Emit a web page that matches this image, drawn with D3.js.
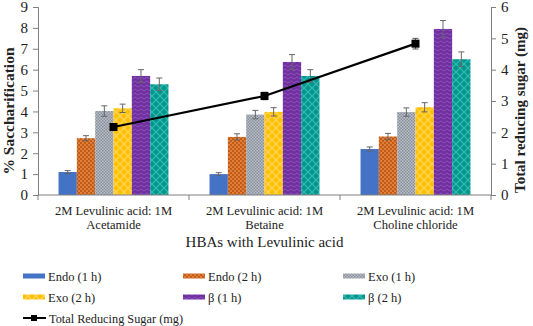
<!DOCTYPE html>
<html>
<head>
<meta charset="utf-8">
<script src="https://cdn.jsdelivr.net/npm/d3@7"></script>
<style>
  body { margin: 0; background: #fff; }
</style>
</head>
<body>
<svg id="chart" width="533" height="326"></svg>
<script>
var categories = ['2M Levulinic acid: 1M|Acetamide', '2M Levulinic acid: 1M|Betaine', '2M Levulinic acid: 1M|Choline chloride'];
var seriesNames = ['Endo (1 h)', 'Endo (2 h)', 'Exo (1 h)', 'Exo (2 h)', '\u03b2 (1 h)', '\u03b2 (2 h)'];
// % saccharification per category, one row per series
var endo1 = [1.1, 1.0, 2.2];
var endo2 = [2.72, 2.78, 2.8];
var exo1 = [4.02, 3.85, 3.97];
var exo2 = [4.15, 3.98, 4.2];
var beta1 = [5.7, 6.37, 7.95];
var beta2 = [5.3, 5.7, 6.5];
var endo1Err = [0.07, 0.07, 0.1];
var endo2Err = [0.12, 0.15, 0.15];
var exo1Err = [0.25, 0.2, 0.2];
var exo2Err = [0.2, 0.2, 0.22];
var beta1Err = [0.3, 0.35, 0.4];
var beta2Err = [0.3, 0.3, 0.35];
// total reducing sugar (mg), right axis
var sugar = [2.17, 3.16, 4.83];
var sugarErr = [0.1, 0.12, 0.17];
var leftTicks = [0, 1, 2, 3, 4, 5, 6, 7, 8, 9];
var rightTicks = [0, 1, 2, 3, 4, 5, 6];

var FONT = '"Liberation Serif"';
var seriesVals = [endo1, endo2, exo1, exo2, beta1, beta2];
var seriesErrs = [endo1Err, endo2Err, exo1Err, exo2Err, beta1Err, beta2Err];
var fills = ['url(#p0)', 'url(#p1)', 'url(#p2)', 'url(#p3)', 'url(#p4)', 'url(#p5)'];

var svg = d3.select('#chart');
var MARGINS = { top: 7, right: 42, bottom: 131, left: 38 };
var WIDTH = 533, HEIGHT = 326;
var plotBottom = HEIGHT - MARGINS.bottom;

// helper so every label gets the serif face on the element itself
function label(parent, str, size) {
  return parent.append('text').style('font-family', FONT).attr('font-size', size).attr('fill', '#222').text(str);
}

// patterns
var defs = svg.append('defs');
function pat(id, w, h, bg, draw) {
  var p = defs.append('pattern').attr('id', id).attr('patternUnits', 'userSpaceOnUse')
    .attr('width', w).attr('height', h);
  p.append('rect').attr('width', w).attr('height', h).attr('fill', bg);
  if (draw) draw(p);
}
pat('p0', 4, 4, '#4472c4');
pat('p1', 4, 4, '#c55a11', function(p) {
  p.append('rect').attr('x', 0).attr('y', 0).attr('width', 2).attr('height', 2).attr('fill', '#dc7f40');
  p.append('rect').attr('x', 2).attr('y', 2).attr('width', 2).attr('height', 2).attr('fill', '#dc7f40');
});
pat('p2', 3, 3, '#b9bec8', function(p) {
  p.append('rect').attr('x', 0).attr('y', 0).attr('width', 1.5).attr('height', 1.5).attr('fill', '#8a909b');
  p.append('rect').attr('x', 1.5).attr('y', 1.5).attr('width', 1.5).attr('height', 1.5).attr('fill', '#8a909b');
});
pat('p3', 8, 8, '#ffc000', function(p) {
  p.append('path').attr('d', 'M0,4 L4,0 L8,4 L4,8 Z').attr('fill', 'none').attr('stroke', '#ffd75e').attr('stroke-width', 1.2);
});
pat('p4', 6, 4, '#7030a0', function(p) {
  p.append('path').attr('d', 'M0,3 L3,1 L6,3').attr('fill', 'none').attr('stroke', '#8a50b8').attr('stroke-width', 1);
});
pat('p5', 8, 8, '#00978f', function(p) {
  p.append('path').attr('d', 'M0,0 L8,8 M8,0 L0,8').attr('fill', 'none').attr('stroke', '#3ab8b0').attr('stroke-width', 1.2);
});

var x0 = d3.scaleBand().domain(categories).range([MARGINS.left, WIDTH - MARGINS.right]).padding(0);
var x1 = d3.scaleBand().domain(d3.range(seriesNames.length)).range([0, x0.bandwidth()])
  .paddingInner(0).paddingOuter(1.12);
var yL = d3.scaleLinear().domain([0, 9]).range([plotBottom, MARGINS.top]);
var yR = d3.scaleLinear().domain([0, 6]).range([plotBottom, MARGINS.top]);

// bars
seriesVals.forEach(function(vals, s) {
  var g = svg.append('g');
  g.selectAll('rect').data(vals).enter().append('rect')
    .attr('x', function(d, i) { return x0(categories[i]) + x1(s); })
    .attr('y', function(d) { return yL(d); })
    .attr('width', x1.bandwidth())
    .attr('height', function(d) { return plotBottom - yL(d); })
    .attr('fill', fills[s]);
  var eg = svg.append('g').attr('stroke', '#666').attr('stroke-width', 1).attr('fill', 'none');
  vals.forEach(function(d, i) {
    var cx = x0(categories[i]) + x1(s) + x1.bandwidth() / 2;
    var e = seriesErrs[s][i];
    eg.append('path').attr('d',
      'M' + cx + ',' + yL(d - e) + 'V' + yL(d + e) +
      'M' + (cx - 3) + ',' + yL(d + e) + 'H' + (cx + 3) +
      'M' + (cx - 3) + ',' + yL(d - e) + 'H' + (cx + 3));
  });
});

// axes
var yAxisL = d3.axisLeft(yL).tickValues(leftTicks).tickSize(5).tickFormat(d3.format('d'));
var yAxisR = d3.axisRight(yR).tickValues(rightTicks).tickSize(5).tickFormat(d3.format('d'));
var gl = svg.append('g').attr('transform', 'translate(' + MARGINS.left + ',0)').call(yAxisL);
var gr = svg.append('g').attr('transform', 'translate(' + (WIDTH - MARGINS.right) + ',0)').call(yAxisR);
[gl, gr].forEach(function(g) {
  g.attr('font-family', null).attr('font-size', null);
  g.select('.domain').attr('stroke', '#7f7f7f');
  g.selectAll('.tick line').attr('stroke', '#7f7f7f');
  g.selectAll('.tick text').attr('fill', '#222').attr('font-size', 15).style('font-family', FONT);
});
gl.selectAll('.tick text').attr('x', -10);
gr.selectAll('.tick text').attr('x', 10);

// x axis line with ticks between categories
var gx = svg.append('g').attr('stroke', '#7f7f7f').attr('fill', 'none');
gx.append('line').attr('x1', MARGINS.left).attr('x2', WIDTH - MARGINS.right)
  .attr('y1', plotBottom).attr('y2', plotBottom);
categories.concat(['end']).forEach(function(c, i) {
  var xx = i < categories.length ? x0(c) : x0(categories[categories.length - 1]) + x0.bandwidth();
  gx.append('line').attr('x1', xx).attr('x2', xx).attr('y1', plotBottom).attr('y2', plotBottom + 5);
});
categories.forEach(function(c) {
  var cx = x0(c) + x0.bandwidth() / 2;
  c.split('|').forEach(function(line, k) {
    label(svg, line, 12.6).attr('text-anchor', 'middle').attr('x', cx).attr('y', plotBottom + 20 + k * 14);
  });
});

// line series (right axis)
var lineGen = d3.line()
  .x(function(d, i) { return x0(categories[i]) + x0.bandwidth() / 2; })
  .y(function(d) { return yR(d); });
svg.append('path').datum(sugar).attr('d', lineGen).attr('fill', 'none')
  .attr('stroke', '#000').attr('stroke-width', 2.2);
var sg = svg.append('g');
sugar.forEach(function(d, i) {
  var cx = x0(categories[i]) + x0.bandwidth() / 2;
  var e = sugarErr[i];
  sg.append('path').attr('stroke', '#555').attr('fill', 'none').attr('d',
    'M' + cx + ',' + yR(d - e) + 'V' + yR(d + e) +
    'M' + (cx - 3) + ',' + yR(d + e) + 'H' + (cx + 3) +
    'M' + (cx - 3) + ',' + yR(d - e) + 'H' + (cx + 3));
  sg.append('rect').attr('x', cx - 4).attr('y', yR(d) - 4).attr('width', 8).attr('height', 8).attr('fill', '#000');
});

// titles
label(svg, 'HBAs with Levulinic  acid', 15).attr('text-anchor', 'middle')
  .attr('x', (MARGINS.left + WIDTH - MARGINS.right) / 2).attr('y', 247);
label(svg, '% Saccharification', 15.5).attr('text-anchor', 'middle').attr('font-weight', 'bold')
  .attr('transform', 'translate(14,' + ((MARGINS.top + plotBottom) / 2 + 10) + ') rotate(-90)');
label(svg, 'Total reducing sugar (mg)', 15).attr('text-anchor', 'middle').attr('font-weight', 'bold')
  .attr('transform', 'translate(525,' + ((MARGINS.top + plotBottom) / 2 + 9) + ') rotate(-90)');

// legend
var legCols = [23, 183, 343];
var legRows = [276, 297];
seriesNames.forEach(function(name, s) {
  var lx = legCols[s % 3], ly = legRows[Math.floor(s / 3)];
  svg.append('rect').attr('x', lx).attr('y', ly - 2.5).attr('width', 22).attr('height', 5).attr('fill', fills[s]);
  label(svg, name, 12.5).attr('x', lx + 25).attr('y', ly + 4.5);
});
var lly = 318;
svg.append('line').attr('x1', 23).attr('x2', 46).attr('y1', lly).attr('y2', lly).attr('stroke', '#000').attr('stroke-width', 2);
svg.append('rect').attr('x', 31).attr('y', lly - 3).attr('width', 6).attr('height', 6).attr('fill', '#000');
label(svg, 'Total Reducing Sugar (mg)', 12.3).attr('x', 49).attr('y', lly + 4.5);
</script>
</body>
</html>
